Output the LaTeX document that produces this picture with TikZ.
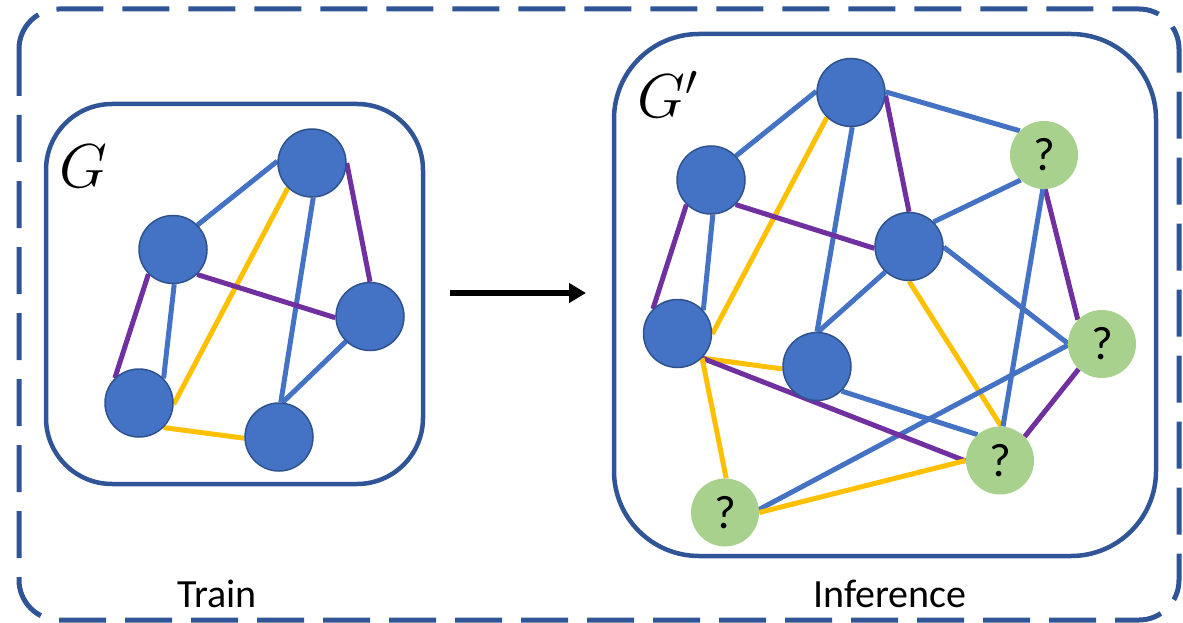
\RequirePackage{fix-cm}
\documentclass[tikz,border=0pt]{standalone}
\usepackage{fontspec}
\setmainfont{Carlito}
\usetikzlibrary{arrows.meta,backgrounds}

\definecolor{frameblue}{HTML}{2F5597}
\definecolor{nodeblue}{HTML}{4472C4}
\definecolor{nodeedge}{HTML}{2F528F}
\definecolor{edgeblue}{HTML}{4472C4}
\definecolor{edgegold}{HTML}{FFC000}
\definecolor{edgeviolet}{HTML}{7030A0}
\definecolor{querygreen}{HTML}{A9D18E}

\begin{document}
\begin{tikzpicture}[x=1pt, y=-1pt,
  known/.style={circle, minimum size=68pt, inner sep=0pt, fill=nodeblue, draw=nodeedge, line width=1.5pt},
  query/.style={circle, minimum size=68pt, inner sep=0pt, fill=querygreen, font=\fontsize{47}{47}\selectfont},
  frame/.style={draw=frameblue, line width=4.5pt},
  blueline/.style={draw=edgeblue, line width=5pt},
  goldline/.style={draw=edgegold, line width=5pt},
  violetline/.style={draw=edgeviolet, line width=5pt},
  graphname/.style={anchor=base west, inner sep=0pt, font=\fontsize{62}{64}\selectfont},
  caption/.style={anchor=base, inner sep=0pt, font=\fontsize{40}{41}\selectfont}]

\useasboundingbox (0,0) rectangle (1183,623);

% ---------- training graph ----------
\node[known] (A) at (312,163) {};
\node[known] (B) at (173,249.5) {};
\node[known] (C) at (370,316.5) {};
\node[known] (D) at (139,403) {};
\node[known] (E) at (279,437) {};

% ---------- inference graph ----------
\node[known] (P1) at (851,92.5) {};
\node[known] (P2) at (711,180) {};
\node[known] (P3) at (909,246.5) {};
\node[known] (P4) at (677.5,333.5) {};
\node[known] (P5) at (817,366.5) {};
\node[query] (Q1) at (1044,155) {?};
\node[query] (Q2) at (1102,344) {?};
\node[query] (Q3) at (1000,460.5) {?};
\node[query] (Q4) at (725,512.5) {?};

% ---------- labels ----------
\node[graphname] (gname) at (59,187) {$G$};
\node[graphname] (gpname) at (637,118) {$G'$};
\node[caption] (train) at (217,607) {Train};
\node[caption] (infer) at (890,607) {Inference};

% ---------- arrow between the panels ----------
\coordinate (arrowtail) at (450,293);
\coordinate (arrowtip) at (586,293);
\draw[-{Triangle[length=17pt,width=19pt]}, line width=5.3pt] (arrowtail) -- (arrowtip);

\begin{pgfonlayer}{background}
  % frames
  \draw[frame, line width=5pt, dash pattern=on 47pt off 19pt, rounded corners=40pt]
    (19,9) rectangle (1179,620);
  \draw[frame, rounded corners=66pt] (46,104) rectangle (423,484);
  \draw[frame, rounded corners=85pt] (614,34) rectangle (1156,556);

  % edges of G
  \draw[blueline]   (B.45)  -- (A.177);
  \draw[goldline]   (D.-2)  -- (A.226);
  \draw[blueline]   (A.-88) -- (E.87);
  \draw[violetline] (A.0)   -- (C.90);
  \draw[violetline] (B.-46) -- (C.182);
  \draw[violetline] (B.225) -- (D.134);
  \draw[blueline]   (B.-88) -- (D.45);
  \draw[goldline]   (D.-45) -- (E.182);
  \draw[blueline]   (C.226) -- (E.84);

  % edges of G'
  \draw[blueline]   (P2.44)  -- (P1.178);
  \draw[goldline]   (P4.-1)  -- (P1.226);
  \draw[blueline]   (P1.-88) -- (P5.90);
  \draw[violetline] (P1.-5)  -- (P3.90);
  \draw[blueline]   (P1.1)   -- (Q1.135);
  \draw[violetline] (P2.-45) -- (P3.183);
  \draw[violetline] (P2.225) -- (P4.135);
  \draw[blueline]   (P2.-87) -- (P4.42);
  \draw[blueline]   (P3.45)  -- (Q1.227);
  \draw[blueline]   (P3.227) -- (P5.88);
  \draw[blueline]   (P3.-1)  -- (Q2.179);
  \draw[goldline]   (P3.-90) -- (Q3.88);
  \draw[violetline] (Q1.-88) -- (Q2.135);
  \draw[blueline]   (Q1.-92) -- (Q3.85);
  \draw[violetline] (Q2.227) -- (Q3.44);
  \draw[blueline]   (Q2.182) -- (Q4.5);
  \draw[goldline]   (P4.-45) -- (P5.184);
  \draw[violetline] (P4.-45) -- (Q3.181);
  \draw[goldline]   (P4.-45) -- (Q4.88);
  \draw[blueline]   (P5.-45) -- (Q3.131);
  \draw[goldline]   (Q3.180) -- (Q4.0);
\end{pgfonlayer}
\end{tikzpicture}
\end{document}
